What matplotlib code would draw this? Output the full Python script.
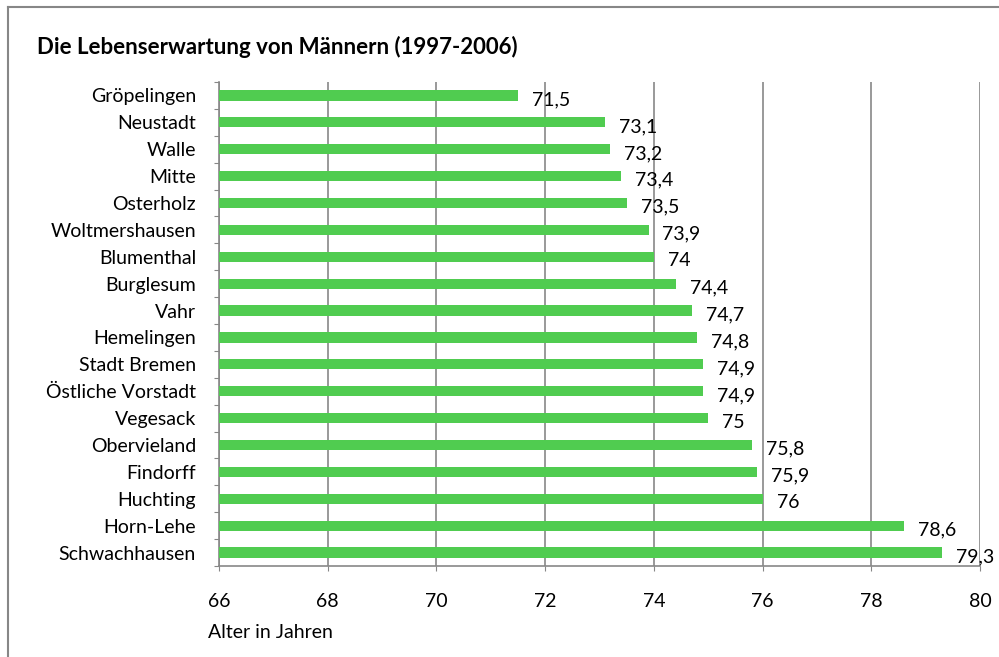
import matplotlib.pyplot as plt
from matplotlib.lines import Line2D

plt.rcParams['font.family'] = ['Lato', 'DejaVu Sans']

# data
districts = ['Gröpelingen', 'Neustadt', 'Walle', 'Mitte', 'Osterholz',
             'Woltmershausen', 'Blumenthal', 'Burglesum', 'Vahr', 'Hemelingen',
             'Stadt Bremen', 'Östliche Vorstadt', 'Vegesack', 'Obervieland',
             'Findorff', 'Huchting', 'Horn-Lehe', 'Schwachhausen']
life_exp = [71.5, 73.1, 73.2, 73.4, 73.5, 73.9, 74.0, 74.4, 74.7, 74.8,
            74.9, 74.9, 75.0, 75.8, 75.9, 76.0, 78.6, 79.3]
x_ticks = [66, 68, 70, 72, 74, 76, 78, 80]

GREEN = '#50cc50'
GRAY = '#878787'
FS = 14

fig = plt.figure(figsize=(9.99, 6.57), dpi=100)
ax = fig.add_axes([0.2192, 0.1385, 0.762, 0.7367])

y = list(range(len(districts)))
ax.barh(y, [v - 66 for v in life_exp], left=66, height=0.38, color=GREEN, zorder=3)

# value labels, german decimal comma
for yi, v in zip(y, life_exp):
    txt = f'{v:g}'.replace('.', ',')
    ax.annotate(txt, (v, yi), xytext=(10, -3), textcoords='offset points',
                ha='left', va='center', fontsize=FS, color='black', zorder=4,
                annotation_clip=False)

ax.set_xlim(66, 80)
ax.set_ylim(len(districts) - 0.5, -0.5)
ax.set_xticks(x_ticks)
ax.set_xticklabels([str(t) for t in x_ticks], fontsize=FS)
ax.tick_params(axis='x', length=3.6, color=GRAY, pad=16, direction='out')

# category labels on minor ticks, boundary ticks as major
ax.set_yticks([i - 0.5 for i in range(len(districts) + 1)])
ax.set_yticklabels([])
ax.set_yticks(y, minor=True)
ax.set_yticklabels(districts, minor=True, fontsize=FS)
ax.tick_params(axis='y', which='major', length=3.6, color=GRAY)
ax.tick_params(axis='y', which='minor', length=0, pad=16.5)

ax.grid(axis='x', color=GRAY, linewidth=1.2, zorder=0)
for s in ['top', 'right']:
    ax.spines[s].set_visible(False)
for s in ['left', 'bottom']:
    ax.spines[s].set_color(GRAY)
    ax.spines[s].set_linewidth(1.2)

fig.text(0.208, 1 - 632 / 657, 'Alter in Jahren', fontsize=FS, ha='left', va='center')
fig.text(37 / 999, 1 - 47 / 657, 'Die Lebenserwartung von Männern (1997-2006)',
         fontsize=16, fontweight='bold', ha='left', va='center')

# outer frame (left and top only visible)
fig.add_artist(Line2D([7.5 / 999, 7.5 / 999], [0, 1 - 7 / 657], transform=fig.transFigure,
                      color=GRAY, linewidth=1.5))
fig.add_artist(Line2D([7.5 / 999, 1], [1 - 7 / 657, 1 - 7 / 657], transform=fig.transFigure,
                      color=GRAY, linewidth=1.5))

fig.savefig('out.png', dpi=100)
